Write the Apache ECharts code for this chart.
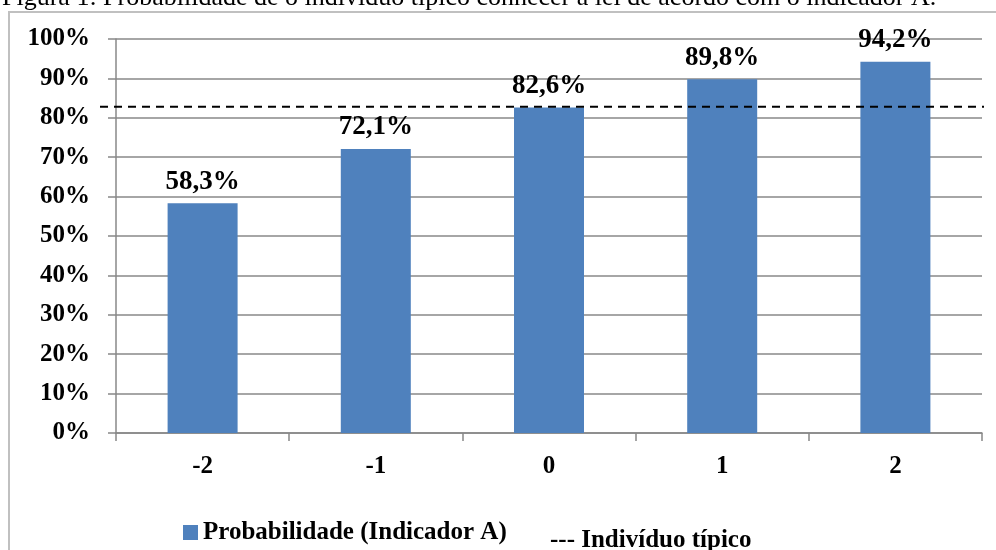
<!DOCTYPE html>
<html>
<head>
<meta charset="utf-8">
<script src="https://cdn.jsdelivr.net/npm/echarts@6/dist/echarts.min.js"></script>
<style>
  html, body { margin: 0; padding: 0; background: #fff; }
  #chart { width: 996px; height: 550px; }
</style>
</head>
<body>
<div id="chart"></div>
<script>
// dados do gráfico
var categorias = ['-2', '-1', '0', '1', '2'];
var probabilidades = [58.3, 72.1, 82.6, 89.8, 94.2];
var nivelTipico = 82.8;   // linha tracejada (indivíduo típico)
var tituloFigura = 'Figura 1: Probabilidade de o indivíduo típico conhecer a lei de acordo com o indicador A.';
var nomeSerie = 'Probabilidade (Indicador A)';
var nomeLinha = '--- Indivíduo típico';

var fonte = 'Liberation Serif, Times New Roman, serif';
var chart = echarts.init(document.getElementById('chart'));

chart.setOption({
  animation: false,
  grid: { left: 116, right: 14, top: 39, bottom: 117 },
  legend: {
    data: [nomeSerie],
    left: 178,
    top: 515,
    icon: 'rect',
    itemWidth: 15,
    itemHeight: 15,
    itemGap: 6,
    textStyle: { fontFamily: fonte, fontWeight: 'bold', fontSize: 25, color: '#000' }
  },
  xAxis: {
    type: 'category',
    data: categorias,
    axisLine: { lineStyle: { color: '#888', width: 1.5 } },
    axisTick: { show: true, alignWithLabel: false, length: 8, lineStyle: { color: '#888', width: 1.5 } },
    axisLabel: { margin: 21, fontFamily: fonte, fontWeight: 'bold', fontSize: 25, color: '#000' }
  },
  yAxis: {
    type: 'value',
    min: 0,
    max: 100,
    interval: 10,
    axisLine: { show: true, lineStyle: { color: '#888', width: 1.5 } },
    axisTick: { show: true, length: 8, lineStyle: { color: '#888', width: 1.5 } },
    splitLine: { lineStyle: { color: '#888', width: 1.5 } },
    axisLabel: { margin: 26, formatter: '{value}%', fontFamily: fonte, fontWeight: 'bold', fontSize: 25, color: '#000' }
  },
  series: [{
    name: nomeSerie,
    type: 'bar',
    data: probabilidades,
    barWidth: 70,
    itemStyle: { color: '#4F81BD' },
    label: {
      show: true,
      position: 'top',
      distance: 8,
      formatter: function (p) { return p.value.toFixed(1).replace('.', ',') + '%'; },
      fontFamily: fonte,
      fontWeight: 'bold',
      fontSize: 27,
      color: '#000'
    }
  }]
});

// linha tracejada do indivíduo típico, posicionada pela escala do eixo y
var yTipico = chart.convertToPixel({ yAxisIndex: 0 }, nivelTipico);

chart.setOption({
  graphic: [
    {
      type: 'rect',
      shape: { x: 9, y: 12, width: 1000, height: 600 },
      style: { fill: 'none', stroke: '#c0c0c0', lineWidth: 2 },
      silent: true
    },
    {
      type: 'text',
      x: 2,
      y: 11,
      style: { text: tituloFigura, font: '26px ' + fonte, fill: '#000', verticalAlign: 'bottom' }
    },
    {
      type: 'line',
      shape: { x1: 100, y1: yTipico, x2: 984, y2: yTipico },
      style: { stroke: '#000', lineWidth: 2, lineDash: [8, 6] },
      z: 10
    },
    {
      type: 'text',
      x: 550,
      y: 528,
      style: { text: nomeLinha, font: 'bold 25px ' + fonte, fill: '#000' }
    }
  ]
});
</script>
</body>
</html>
